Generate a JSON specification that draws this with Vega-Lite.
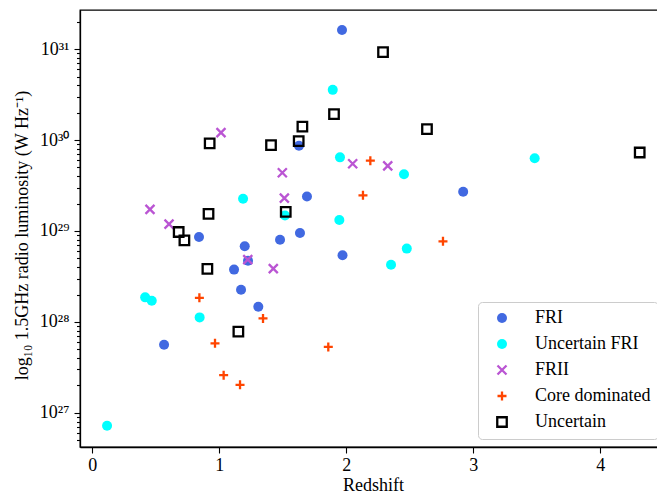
{
  "$schema": "https://vega.github.io/schema/vega-lite/v6.json",
  "autosize": {"type": "none"},
  "padding": {"left": 80, "top": 10, "right": 0, "bottom": 46},
  "width": 586,
  "height": 437,
  "background": "white",
  "config": {
    "view": {"stroke": "black", "strokeWidth": 1.3},
    "font": "Liberation Serif",
    "axis": {"grid": false, "domainColor": "black", "domainWidth": 1.3, "tickColor": "black", "tickWidth": 1.1, "labelColor": "black", "titleColor": "black", "labelFont": "Liberation Serif", "titleFont": "Liberation Serif", "labelFontSize": 18, "titleFontSize": 18, "titleFontWeight": "normal"}
  },
  "data": {
    "values": [
      {"z": 0.565, "L": 5.6e27, "t": "FRI"},
      {"z": 0.84, "L": 8.6e28, "t": "FRI"},
      {"z": 1.2, "L": 6.8e28, "t": "FRI"},
      {"z": 1.116, "L": 3.76e28, "t": "FRI"},
      {"z": 1.226, "L": 4.7e28, "t": "FRI"},
      {"z": 1.171, "L": 2.26e28, "t": "FRI"},
      {"z": 1.307, "L": 1.47e28, "t": "FRI"},
      {"z": 1.478, "L": 8.0e28, "t": "FRI"},
      {"z": 1.635, "L": 9.5e28, "t": "FRI"},
      {"z": 1.69, "L": 2.4e29, "t": "FRI"},
      {"z": 1.627, "L": 8.65e29, "t": "FRI"},
      {"z": 1.966, "L": 1.63e31, "t": "FRI"},
      {"z": 1.97, "L": 5.4e28, "t": "FRI"},
      {"z": 2.92, "L": 2.7e29, "t": "FRI"},
      {"z": 0.116, "L": 7.2e26, "t": "Uncertain FRI"},
      {"z": 0.416, "L": 1.86e28, "t": "Uncertain FRI"},
      {"z": 0.468, "L": 1.71e28, "t": "Uncertain FRI"},
      {"z": 0.845, "L": 1.12e28, "t": "Uncertain FRI"},
      {"z": 1.187, "L": 2.26e29, "t": "Uncertain FRI"},
      {"z": 1.517, "L": 1.48e29, "t": "Uncertain FRI"},
      {"z": 1.893, "L": 3.57e30, "t": "Uncertain FRI"},
      {"z": 1.95, "L": 6.46e29, "t": "Uncertain FRI"},
      {"z": 2.454, "L": 4.2e29, "t": "Uncertain FRI"},
      {"z": 3.483, "L": 6.3e29, "t": "Uncertain FRI"},
      {"z": 1.945, "L": 1.32e29, "t": "Uncertain FRI"},
      {"z": 2.476, "L": 6.4e28, "t": "Uncertain FRI"},
      {"z": 2.352, "L": 4.26e28, "t": "Uncertain FRI"},
      {"z": 0.454, "L": 1.73e29, "t": "FRII"},
      {"z": 0.604, "L": 1.19e29, "t": "FRII"},
      {"z": 1.013, "L": 1.21e30, "t": "FRII"},
      {"z": 1.496, "L": 4.37e29, "t": "FRII"},
      {"z": 1.512, "L": 2.3e29, "t": "FRII"},
      {"z": 1.224, "L": 4.84e28, "t": "FRII"},
      {"z": 1.425, "L": 3.85e28, "t": "FRII"},
      {"z": 2.05, "L": 5.5e29, "t": "FRII"},
      {"z": 2.326, "L": 5.2e29, "t": "FRII"},
      {"z": 0.843, "L": 1.84e28, "t": "Core dominated"},
      {"z": 0.966, "L": 5.8e27, "t": "Core dominated"},
      {"z": 1.034, "L": 2.59e27, "t": "Core dominated"},
      {"z": 1.163, "L": 2.03e27, "t": "Core dominated"},
      {"z": 1.344, "L": 1.09e28, "t": "Core dominated"},
      {"z": 1.858, "L": 5.3e27, "t": "Core dominated"},
      {"z": 2.189, "L": 5.93e29, "t": "Core dominated"},
      {"z": 2.131, "L": 2.47e29, "t": "Core dominated"},
      {"z": 2.761, "L": 7.7e28, "t": "Core dominated"},
      {"z": 0.924, "L": 9.2e29, "t": "Uncertain"},
      {"z": 1.407, "L": 8.8e29, "t": "Uncertain"},
      {"z": 1.625, "L": 9.75e29, "t": "Uncertain"},
      {"z": 1.654, "L": 1.41e30, "t": "Uncertain"},
      {"z": 0.915, "L": 1.54e29, "t": "Uncertain"},
      {"z": 0.68, "L": 9.75e28, "t": "Uncertain"},
      {"z": 0.725, "L": 7.9e28, "t": "Uncertain"},
      {"z": 1.523, "L": 1.62e29, "t": "Uncertain"},
      {"z": 0.906, "L": 3.82e28, "t": "Uncertain"},
      {"z": 1.15, "L": 7.8e27, "t": "Uncertain"},
      {"z": 1.903, "L": 1.93e30, "t": "Uncertain"},
      {"z": 2.289, "L": 9.27e30, "t": "Uncertain"},
      {"z": 2.635, "L": 1.32e30, "t": "Uncertain"},
      {"z": 4.31, "L": 7.3e29, "t": "Uncertain"}
    ]
  },
  "mark": {"type": "point", "size": 100, "strokeWidth": 2.3, "opacity": 1},
  "encoding": {
    "x": {
      "field": "z", "type": "quantitative",
      "scale": {"domain": [-0.097, 4.517], "nice": false, "zero": false},
      "axis": {"values": [0, 1, 2, 3, 4], "tickSize": 6, "labelPadding": 3, "title": "Redshift", "titlePadding": 2, "format": "d"}
    },
    "y": {
      "field": "L", "type": "quantitative",
      "scale": {"type": "log", "domain": [4.2e26, 2.7e31], "nice": false},
      "axis": {
        "values": [5e26, 6e26, 7e26, 8e26, 9e26, 1e27, 2e27, 3e27, 4e27, 5e27, 6e27, 7e27, 8e27, 9e27, 1e28, 2e28, 3e28, 4e28, 5e28, 6e28, 7e28, 8e28, 9e28, 1e29, 2e29, 3e29, 4e29, 5e29, 6e29, 7e29, 8e29, 9e29, 1e30, 2e30, 3e30, 4e30, 5e30, 6e30, 7e30, 8e30, 9e30, 1e31, 2e31],
        "labelExpr": "abs(log(datum.value)/LN10 - round(log(datum.value)/LN10)) < 0.01 ? ['10²⁶','10²⁷','10²⁸','10²⁹','10³⁰','10³¹'][round(log(datum.value)/LN10)-26] : ''",
        "tickSize": {"condition": {"test": "abs(log(datum.value)/LN10 - round(log(datum.value)/LN10)) < 0.01", "value": 6}, "value": 3.5},
        "labelPadding": 5,
        "labelOverlap": false,
        "title": "log₁₀ 1.5GHz radio luminosity (W Hz⁻¹)",
        "titleAngle": -90,
        "titleX": -58,
        "titleY": 225,
        "titleAlign": "center",
        "titleBaseline": "middle"
      }
    },
    "shape": {
      "field": "t", "type": "nominal",
      "scale": {
        "domain": ["FRI", "Uncertain FRI", "FRII", "Core dominated", "Uncertain"],
        "range": ["circle", "circle", "M-0.9,-0.9L0.9,0.9M-0.9,0.9L0.9,-0.9", "M-0.9,0L0.9,0M0,-0.9L0,0.9", "M-0.95,-0.95L0.95,-0.95L0.95,0.95L-0.95,0.95Z"]
      },
      "legend": {
        "title": null,
        "orient": "none",
        "legendX": 398,
        "legendY": 292,
        "labelFont": "Liberation Serif",
        "labelFontSize": 18,
        "labelColor": "black",
        "symbolSize": 100,
        "symbolStrokeWidth": 2.3,
        "symbolOffset": 8,
        "labelOffset": 24,
        "rowPadding": 6,
        "padding": 7,
        "fillColor": "rgba(255,255,255,0.8)",
        "strokeColor": "#cccccc",
        "cornerRadius": 4
      }
    },
    "fill": {
      "field": "t", "type": "nominal",
      "scale": {
        "domain": ["FRI", "Uncertain FRI", "FRII", "Core dominated", "Uncertain"],
        "range": ["#4169E1", "#00FFFF", "transparent", "transparent", "transparent"]
      },
      "legend": null
    },
    "stroke": {
      "field": "t", "type": "nominal",
      "scale": {
        "domain": ["FRI", "Uncertain FRI", "FRII", "Core dominated", "Uncertain"],
        "range": ["transparent", "transparent", "#BA55D3", "#FF4500", "#000000"]
      },
      "legend": null
    }
  }
}
